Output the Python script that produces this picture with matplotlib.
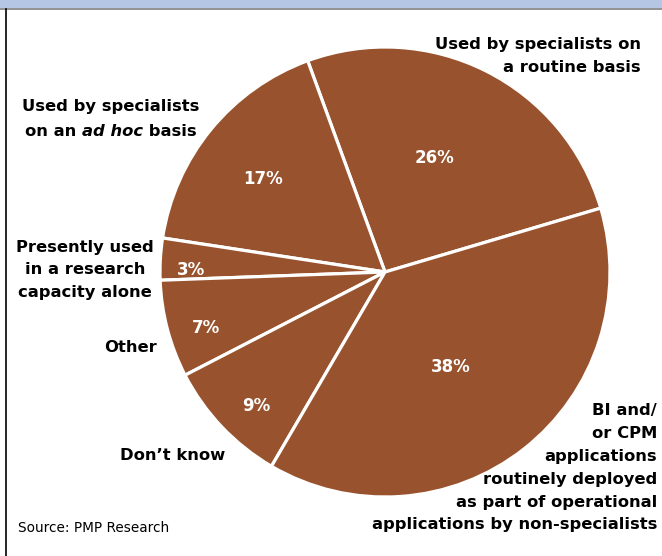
import matplotlib
matplotlib.use("Agg")
import matplotlib.pyplot as plt
from matplotlib.lines import Line2D
from matplotlib.patches import Rectangle

# slice values, counter-clockwise starting from the upper-right boundary
shares = [26, 17, 3, 7, 9, 38]
pct_labels = ["26%", "17%", "3%", "7%", "9%", "38%"]
categories = [
    "Used by specialists on\na routine basis",
    "Used by specialists\non an ad hoc basis",
    "Presently used\nin a research\ncapacity alone",
    "Other",
    "Don\u2019t know",
    "BI and/\nor CPM\napplications\nroutinely deployed\nas part of operational\napplications by non-specialists",
]
source = "Source: PMP Research"

BROWN = "#98532e"
FONT = ["DejaVu Sans Condensed", "DejaVu Sans"]
W, H = 662, 556

fig = plt.figure(figsize=(W / 100, H / 100), dpi=100)
fig.patch.set_facecolor("white")


def fx(px):
    return px / W


def fy(py):
    return 1 - py / H


# header band and frame
fig.patches.append(Rectangle((0, fy(8)), 1, fy(0) - fy(8), transform=fig.transFigure,
                             facecolor="#b4c6e4", edgecolor="none"))
fig.lines.append(Line2D([0, 1], [fy(8.5), fy(8.5)], transform=fig.transFigure,
                        color="#7f7f7f", lw=1.2))
fig.lines.append(Line2D([fx(5.5), fx(5.5)], [fy(8.5), 0], transform=fig.transFigure,
                        color="black", lw=1.2))

# pie
cx, cy, r = 385, 272, 225
ax = fig.add_axes([fx(cx - r), fy(cy + r), 2 * r / W, 2 * r / H])
wedges, _ = ax.pie(shares, startangle=16.5, counterclock=True, colors=[BROWN] * len(shares),
                   wedgeprops=dict(edgecolor="white", linewidth=2.3))
ax.set_xlim(-1, 1)
ax.set_ylim(-1, 1)
ax.set_aspect("auto")
ax.axis("off")

# percentage labels (pixel positions)
pct_pos = [(435, 158), (263, 179), (191, 270), (206, 328), (256, 406), (451, 367)]
for (px, py), lab in zip(pct_pos, pct_labels):
    fig.text(fx(px), fy(py), lab, color="white", fontsize=12, fontweight="bold",
             family=FONT, ha="center", va="center")

kw = dict(fontsize=11.8, fontweight="bold", family=FONT, color="black", linespacing=1.65)
fig.text(fx(641), fy(56), categories[0], ha="right", va="center", multialignment="right", **kw)

# "ad hoc" label with italic part
fig.text(fx(111), fy(107), "Used by specialists", ha="center", va="center", **kw)
renderer = fig.canvas.get_renderer()
parts = [("on an ", "normal"), ("ad hoc", "italic"), (" basis", "normal")]
widths = []
for txt, st in parts:
    t = fig.text(0, 0, txt, style=st, **kw)
    widths.append(t.get_window_extent(renderer).width)
    t.remove()
x0 = 111 - sum(widths) / 2
for (txt, st), w in zip(parts, widths):
    fig.text(fx(x0), fy(131), txt, style=st, ha="left", va="center", **kw)
    x0 += w

fig.text(fx(85), fy(270), categories[2], ha="center", va="center", multialignment="center", **kw)
fig.text(fx(157), fy(348), categories[3], ha="right", va="center", **kw)
fig.text(fx(225), fy(455), categories[4], ha="right", va="center", **kw)
fig.text(fx(657), fy(468), categories[5], ha="right", va="center", multialignment="right", **kw)

fig.text(fx(18), fy(528), source, ha="left", va="center", fontsize=9.8, family=FONT)

fig.savefig("out.png", dpi=100)
